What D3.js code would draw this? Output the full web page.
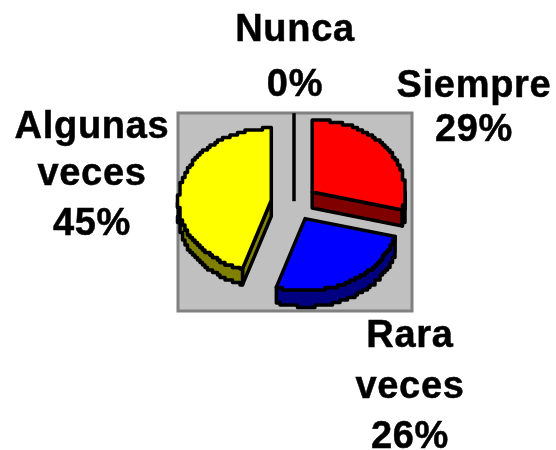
<!DOCTYPE html>
<html lang="en">
<head>
<meta charset="UTF-8">
<title>Pie 3D</title>
<script src="https://cdn.jsdelivr.net/npm/d3@7"></script>
<style>
    html, body { margin: 0; padding: 0; background: #fff; }
    svg { display: block; }
    text { font-family: "Liberation Sans", Arial, sans-serif; font-weight: bold; font-size: 38px; letter-spacing: 0.7px; fill: #000; stroke: #000; stroke-width: 0.5px; }
</style>
</head>
<body>
<script>
    const categories = ["Siempre", "Rara veces", "Algunas veces", "Nunca"];
    const values = [29, 26, 45, 0];
    const topColors = ["#ff0000", "#0000ff", "#ffff00", "#c0c0c0"];
    const sideColors = ["#800000", "#000080", "#808000", "#000000"];
    // text lines for each label, same order as categories
    const labelLines = [["Siempre", "29%"], ["Rara", "veces", "26%"], ["Algunas", "veces", "45%"], ["Nunca", "0%"]];
    const labelX = [474, 410, 92, 295];
    const labelY = [[97, 141], [347, 398, 448], [138, 185, 235], [41, 96]];

    const width = 556, height = 450;
    const cx = 294, cy = 203, rx = 93, ry = 72, depth = 16, explode = 23;
    const grid = 2.5; // staircase size of the curved edges

    const svg = d3.select("body").append("svg").attr("width", width).attr("height", height);

    // slight softening, the original is an upscaled bitmap
    svg.append("filter").attr("id", "soft").append("feGaussianBlur").attr("stdDeviation", 0.45);
    const g = svg.append("g").attr("filter", "url(#soft)");

    g.append("rect")
        .attr("x", 178).attr("y", 113)
        .attr("width", 234).attr("height", 198)
        .attr("fill", "#c0c0c0").attr("stroke", "#808080").attr("stroke-width", 3);

    const arcs = d3.pie().sort(null)(values);

    const px = d3.scaleLinear().domain([-1, 1]).range([-rx, rx]);
    const py = d3.scaleLinear().domain([-1, 1]).range([-ry, ry]);

    function apex(d) {
        const mid = (d.startAngle + d.endAngle) / 2;
        return [cx + px(Math.sin(mid)) * explode / rx, cy - py(Math.cos(mid)) * explode / rx];
    }
    function edge(d, a) {
        const c = apex(d);
        return [c[0] + px(Math.sin(a)), c[1] - py(Math.cos(a))];
    }
    // arc points snapped to a coarse grid, so they come out as stairs
    function arcPoints(d, a0, a1, dy) {
        const n = Math.max(2, Math.ceil(Math.abs(a1 - a0) * 180 / Math.PI));
        return d3.range(n + 1).map(function(i) {
            const p = edge(d, a0 + (a1 - a0) * i / n);
            if (i === 0 || i === n) return [p[0], p[1] + dy];
            return [Math.round(p[0] / grid) * grid, Math.round((p[1] + dy) / grid) * grid];
        });
    }
    function stepPath(points) {
        let s = "M" + points[0];
        for (let i = 1; i < points.length; i++) {
            const a = points[i - 1], b = points[i];
            if (a[0] === b[0] && a[1] === b[1]) continue;
            s += "L" + b[0] + "," + a[1] + "L" + b;
        }
        return s;
    }
    function shape(d, path, fill) {
        g.append("path").attr("d", path).attr("fill", fill)
            .attr("stroke", "#000").attr("stroke-width", 3.5).attr("stroke-linejoin", "round");
    }

    arcs.forEach(function(d) {
        const i = d.index;
        const c = apex(d);
        if (d.value === 0) {
            const p = edge(d, d.startAngle);
            g.append("path").attr("d", d3.line()([p, c, [c[0], c[1] + depth]]))
                .attr("fill", "none").attr("stroke", "#000").attr("stroke-width", 3.5);
            return;
        }
        // radial cut walls that face the viewer
        [[d.startAngle, d.startAngle - Math.PI / 2], [d.endAngle, d.endAngle + Math.PI / 2]].forEach(function(w) {
            if (-Math.cos(w[1]) > 0.01) {
                const p = edge(d, w[0]);
                shape(d, d3.line()([c, p, [p[0], p[1] + depth], [c[0], c[1] + depth]]) + "Z", sideColors[i]);
            }
        });
        // outer wall, only the front half of the rim
        const a0 = Math.max(d.startAngle, Math.PI / 2), a1 = Math.min(d.endAngle, 3 * Math.PI / 2);
        if (a1 > a0) {
            const upper = arcPoints(d, a0, a1, 0), lower = arcPoints(d, a1, a0, depth);
            shape(d, stepPath(upper) + "L" + lower[0] + stepPath(lower).slice(1).replace(/^[^L]*/, "") + "Z", sideColors[i]);
        }
        // top face
        const top = arcPoints(d, d.startAngle, d.endAngle, 0);
        shape(d, "M" + c + "L" + top[0] + stepPath(top).replace(/^M[^L]*/, "") + "Z", topColors[i]);
    });

    labelLines.forEach(function(lines, i) {
        lines.forEach(function(t, j) {
            g.append("text").attr("x", labelX[i]).attr("y", labelY[i][j])
                .attr("text-anchor", "middle").text(t);
        });
    });
</script>
</body>
</html>
